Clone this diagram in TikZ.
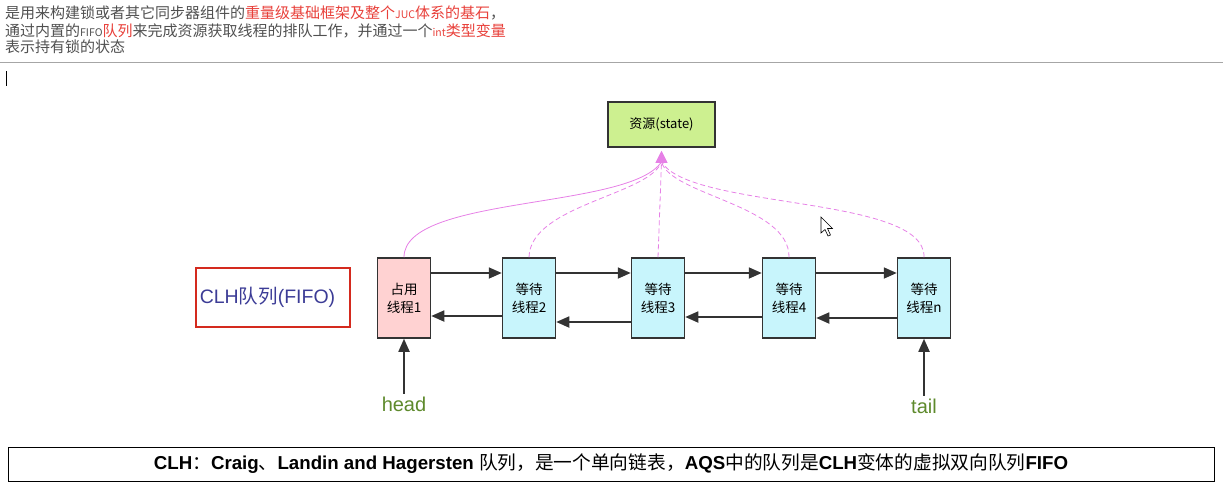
\documentclass[tikz,border=0pt]{standalone}
\usepackage{fontspec}
\setmainfont{Liberation Sans}
\newfontfamily\cjk{Noto Sans CJK SC}
\usetikzlibrary{positioning,arrows.meta}

\definecolor{txtgray}{HTML}{505050}
\definecolor{txtred}{HTML}{E8403A}
\definecolor{resgreen}{HTML}{CDF090}
\definecolor{thrcyan}{HTML}{C8F5FC}
\definecolor{thrpink}{HTML}{FFD2D2}
\definecolor{linkpink}{HTML}{E680E6}
\definecolor{clhblue}{HTML}{3C3C96}
\definecolor{clhred}{HTML}{D42A1E}
\definecolor{ptrgreen}{HTML}{5E8A2C}
\definecolor{arrgray}{HTML}{333333}

\tikzset{
  thread/.style={draw=arrgray, line width=1.5pt, fill=thrcyan,
    minimum width=53pt, minimum height=80pt, inner sep=0pt, align=center,
    font=\cjk\fontsize{13.5}{18}\selectfont},
  resource/.style={draw=arrgray, line width=1.5pt, fill=resgreen,
    minimum width=107pt, minimum height=45pt, inner sep=0pt,
    font=\cjk\fontsize{13}{15}\selectfont},
  link/.style={draw=arrgray, line width=1.8pt, -{Triangle[length=13pt,width=11pt]}},
  wait/.style={draw=linkpink, line width=0.8pt, dash pattern=on 5pt off 3pt},
  hold/.style={draw=linkpink, line width=0.8pt},
  ptr/.style={text=ptrgreen, inner sep=3pt, font=\fontsize{20}{24}\selectfont},
  intro/.style={anchor=base west, inner sep=0pt, text=txtgray,
    font=\cjk\fontsize{15}{18}\selectfont},
}
\newcommand{\mini}[1]{{\fontsize{10.5}{12}\selectfont #1}}

\begin{document}
\begin{tikzpicture}[x=1pt,y=-1pt]
  \useasboundingbox (0,0) rectangle (1223,493);

  % intro text
  \node[intro] (line1) at (5,18.5) {是用来构建锁或者其它同步器组件的\textcolor{txtred}{重量级基础框架及整个\mini{JUC}体系的基石}，};
  \node[intro] (line2) at (5,36.5) {通过内置的\mini{FIFO}\textcolor{txtred}{队列}来完成资源获取线程的排队工作，并通过一个\textcolor{txtred}{\mini{int}类型变量}};
  \node[intro] (line3) at (5,52.5) {表示持有锁的状态};
  \draw[gray!70, line width=1pt] (0,62) -- (1223,62);
  \draw[black, line width=0.8pt] (6,71) -- (6,86);

  % queue
  \node[thread, fill=thrpink] (t1) at (404,298) {占用\\线程1};
  \node[thread, right=70.5pt of t1] (t2) {等待\\线程2};
  \node[thread, right=74.5pt of t2] (t3) {等待\\线程3};
  \node[thread, right=76.5pt of t3] (t4) {等待\\线程4};
  \node[thread, right=80.5pt of t4] (tn) {等待\\线程n};

  \foreach \a/\b in {t1/t2,t2/t3,t3/t4,t4/tn}
    \draw[link] ([yshift=25pt]\a.east) -- ([yshift=25pt]\b.west);
  \foreach \a/\b/\s in {t2/t1/-18pt,t3/t2/-24pt,t4/t3/-19pt,tn/t4/-20pt}
    \draw[link] ([yshift=\s]\a.west) -- ([yshift=\s]\b.east);

  % state
  \node[resource] (res) at (661.5,124.5) {资源(state)};
  \coordinate (tip) at ([yshift=-3pt]res.south);
  \coordinate (base) at ([yshift=-14pt]res.south);
  \draw[hold] (t1.north) .. controls (404,195) and (630,210) .. (base);
  \draw[wait] (t2.north) .. controls (530,205) and (650,195) .. (base);
  \draw[wait] (t3.north) -- (base);
  \draw[wait] (t4.north) .. controls (790,205) and (670,195) .. (base);
  \draw[wait] (tn.north) .. controls (926,195) and (690,210) .. (base);
  \draw[hold, -{Triangle[length=12pt,width=12pt]}] (base) -- (tip);

  % CLH label
  \node[draw=clhred, line width=1.5pt, minimum width=154pt, minimum height=59pt] (clh) at (273,297.5) {};
  \node[text=clhblue, font=\fontsize{19.5}{22}\selectfont] (clhtext) at ([xshift=-5.5pt]clh.center) {CLH{\cjk 队列}(FIFO)};

  % head and tail
  \node[ptr, below=55pt of t1] (head) {head};
  \node[ptr, below=57pt of tn] (tail) {tail};
  \draw[link] (head) -- (t1);
  \draw[link] (tail) -- (tn);

  % mouse pointer
  \draw[black, line width=0.6pt, fill=white] (821,217) -- (821,233) -- (825,229.5)
    -- (828,236) -- (830.5,235) -- (827.5,228.5) -- (832.5,228.5) -- cycle;

  % note
  \node[draw, line width=1pt, minimum width=1206pt, minimum height=34pt,
    font=\bfseries\fontsize{18.7}{21}\selectfont] (note) at (611,464)
    {CLH{\cjk\mdseries ：}Craig{\cjk\mdseries 、}Landin and Hagersten {\cjk\mdseries 队列，是一个单向链表，}AQS{\cjk\mdseries 中的队列是}CLH{\cjk\mdseries 变体的虚拟双向队列}FIFO};
\end{tikzpicture}
\end{document}
